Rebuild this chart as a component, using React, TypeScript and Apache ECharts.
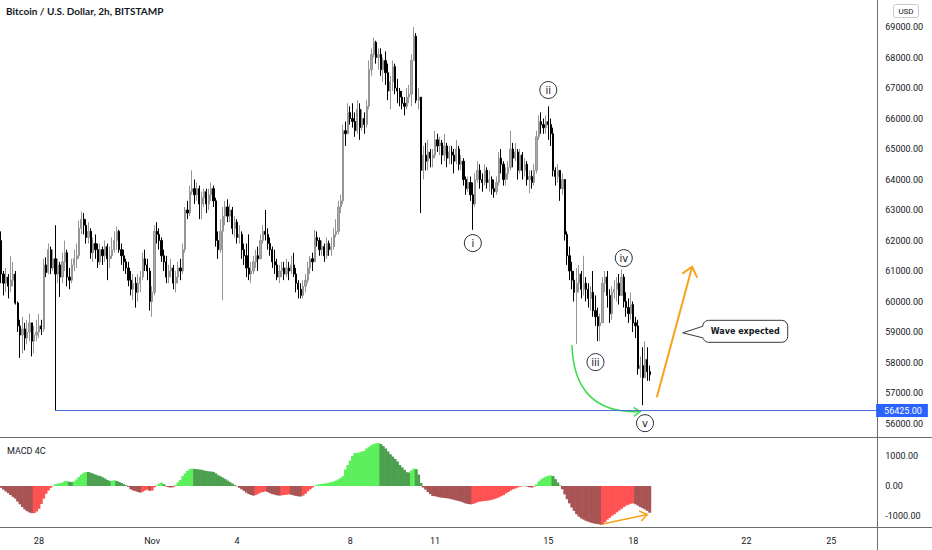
import { useEffect, useRef } from "react";
import * as echarts from "echarts";

// ---------- labels ----------
const TITLE = "Bitcoin / U.S. Dollar, 2h, BITSTAMP";
const PANE_LABEL = "MACD 4C";
const CURRENCY = "USD";
const CALLOUT_TEXT = "Wave expected";

// ---------- time axis ----------
const SLOT_COUNT = 372; // 2h slots shown on the axis (incl. empty future)
const FIRST_DAY_SLOT = 16; // slot of Oct 28 00:00
const BARS_PER_DAY = 12;
const dayTickLabels = ["28", "Nov", "4", "8", "11", "15", "18", "22", "25"];
const dayTickOffsets = [0, 4, 7, 11, 14, 18, 21, 25, 28]; // days after Oct 28

// ---------- price data (2h candles, open = previous close) ----------
const firstOpen = 62000;
const closes = [
  60900, 60600, 60800, 60500, 60700, 60900, 59950, 59200, 58900, 59100,
  58800, 59000, 59300, 58700, 58900, 59000, 59200, 59100, 61200, 60950,
  61700, 61100, 61400, 60900, 61200, 60800, 61300, 61600, 60800, 60700,
  61200, 61400, 61500, 62400, 62700, 62500, 62100, 62300, 61600, 61900,
  61700, 61300, 61700, 61500, 61800, 61400, 61500, 61700, 62000, 62300,
  61700, 61500, 61300, 61100, 60700, 60400, 60600, 60300, 60600, 60800,
  61400, 61200, 61000, 60000, 60300, 62300, 62200, 62000, 61500, 61300,
  60800, 61000, 61100, 60600, 60800, 61100, 61000, 61700, 63000, 62900,
  63600, 63700, 63500, 63700, 63200, 63400, 63600, 63200, 63500, 63700,
  63300, 62000, 61700, 62300, 62800, 63100, 62800, 63000, 62400, 62600,
  62100, 62200, 61700, 61500, 61100, 60900, 61000, 61300, 61500, 61400,
  62000, 62300, 62200, 61900, 61700, 61300, 61200, 60800, 61000, 61100,
  60900, 61100, 61000, 61200, 60900, 60600, 60400, 60200, 60500, 60700,
  61100, 61400, 61300, 62100, 62000, 61700, 61800, 61500, 61900, 61700,
  61800, 62200, 62300, 63100, 63300, 65600, 65500, 66200, 66000, 65900,
  65600, 66300, 65700, 66000, 65800, 66400, 67600, 68100, 68500, 68000,
  68100, 67600, 67900, 67500, 66900, 67200, 67700, 67000, 66900, 66700,
  66500, 66400, 66700, 66800, 67900, 68700, 66600, 66700, 64300, 64800,
  64600, 64900, 64700, 64800, 65300, 65100, 65200, 64800, 65100, 64700,
  64900, 64800, 64600, 65000, 64500, 64600, 64000, 63700, 63900, 63500,
  63200, 64000, 64300, 64000, 63900, 64300, 63900, 64000, 63700, 63600,
  63900, 64700, 64500, 64000, 64200, 64400, 65000, 64700, 64900, 64300,
  64800, 64300, 64500, 64000, 64100, 63900, 64300, 65400, 65900, 65800,
  65700, 65900, 65800, 65500, 64300, 64100, 64300, 63700, 64000, 62200,
  61500, 61000, 60700, 60300, 60600, 60900, 60400, 60600, 60400, 60100,
  60300, 59700, 59500, 59200, 59300, 60600, 60800, 60200, 59600, 60300,
  60400, 60600, 60200, 60800, 60000, 59800, 59600, 59900, 59300, 59200,
  57800, 57900, 57500, 58100, 57700, 57600,
];
const highs = [
  62300, 61000, 61100, 60900, 61500, 61300, 61000, 60000, 59400, 59500,
  59300, 59400, 59600, 59300, 59200, 59400, 59600, 59400, 61400, 61450,
  61900, 61800, 61700, 62500, 61400, 61300, 61600, 62000, 61700, 61100,
  61400, 61700, 61900, 62650, 62950, 62900, 62700, 62600, 62400, 62100,
  62200, 61900, 61900, 61800, 62000, 61900, 61800, 62100, 62300, 62450,
  62350, 61900, 61700, 61400, 61300, 61000, 60900, 60800, 60900, 61000,
  61600, 61700, 61400, 61100, 60500, 62500, 62600, 62400, 62100, 61700,
  61500, 61200, 61400, 61200, 61000, 61300, 61400, 61900, 63100, 63300,
  63800, 64300, 64000, 63900, 63800, 63600, 63700, 63700, 63700, 63900,
  63800, 63400, 62300, 62700, 63100, 63300, 63350, 63200, 63100, 62800,
  62700, 62500, 62300, 61900, 61900, 62200, 61300, 61500, 61700, 61800,
  62200, 62500, 63000, 62400, 62100, 61800, 61700, 61400, 61200, 61300,
  61300, 61400, 61300, 61500, 61600, 61100, 60700, 60600, 60700, 60900,
  61300, 61500, 61600, 62350, 62300, 62100, 62000, 61900, 62100, 62000,
  62100, 62400, 62700, 63300, 63500, 65800, 65900, 66500, 66400, 66500,
  66200, 66600, 66500, 66300, 66200, 66600, 67900, 68300, 68650, 68550,
  68300, 68300, 68000, 68200, 67800, 67400, 67900, 67800, 67300, 67000,
  66900, 66700, 67000, 67100, 68100, 69000, 68800, 67000, 66700, 65100,
  65200, 65300, 65000, 65000, 65600, 65500, 65400, 65300, 65500, 65200,
  65100, 65100, 65000, 65300, 65100, 64800, 64700, 64100, 64100, 64100,
  63900, 64200, 64600, 64500, 64200, 64500, 64400, 64300, 64100, 64000,
  64100, 64900, 65000, 64600, 64400, 64600, 65600, 65200, 65200, 65000,
  65000, 64900, 64700, 64600, 64300, 64300, 64500, 65600, 66100, 66200,
  66000, 66100, 66400, 66000, 65700, 64400, 64500, 64300, 64200, 64000,
  62300, 61800, 61300, 61000, 61100, 61200, 61000, 61500, 60800, 60600,
  60500, 61000, 60200, 59800, 59600, 60800, 61000, 61000, 60400, 60500,
  60700, 60800, 60900, 61050, 60900, 60300, 60100, 60300, 60000, 59500,
  59400, 58200, 58500, 58700, 58500, 57900,
];
const lows = [
  60600, 60200, 60300, 60100, 60300, 60500, 59900, 59000, 58150, 58300,
  58400, 58600, 58700, 58200, 58300, 58700, 58800, 58900, 59000, 60800,
  60900, 60900, 61000, 56425, 60600, 60150, 60600, 61000, 60500, 60400,
  60600, 61000, 61100, 61400, 62200, 62200, 61900, 61900, 61400, 61300,
  61400, 61100, 61200, 61200, 61300, 60700, 61100, 61400, 61600, 61700,
  61600, 61200, 61000, 60900, 60500, 60200, 60050, 59800, 60000, 60300,
  60700, 61000, 60700, 59700, 59500, 60200, 61900, 61700, 61300, 61000,
  60600, 60600, 60800, 60400, 60300, 60600, 60700, 60900, 61600, 62700,
  62800, 63500, 63200, 63300, 62700, 62700, 63100, 62900, 63000, 63300,
  63100, 61800, 61400, 61600, 60050, 62500, 62600, 62600, 62200, 62100,
  61900, 61900, 61400, 61200, 60800, 60700, 60600, 60900, 61100, 61000,
  61400, 61900, 62000, 61700, 61500, 61100, 60900, 60700, 60600, 60800,
  60700, 60800, 60700, 60900, 60800, 60300, 60100, 60100, 60100, 60300,
  60600, 60900, 61000, 61300, 61800, 61500, 61500, 61300, 61400, 61500,
  61500, 61700, 62100, 62200, 62900, 63200, 65100, 65500, 65800, 65700,
  65400, 65500, 65300, 65600, 65500, 65700, 66300, 67400, 68000, 67800,
  67600, 67400, 67200, 67100, 66600, 66300, 66900, 66800, 66500, 66400,
  66300, 66100, 66300, 66500, 66400, 67900, 66500, 66300, 62900, 64000,
  64300, 64300, 64400, 64400, 64700, 64900, 64800, 64500, 64600, 64400,
  64500, 64500, 64200, 64500, 64300, 64300, 63800, 63500, 63600, 63300,
  62350, 63100, 63900, 63700, 63600, 63800, 63700, 63600, 63500, 63400,
  63500, 63800, 64200, 63800, 63800, 64000, 64300, 64400, 64600, 64000,
  64200, 64000, 64100, 63800, 63550, 63700, 63800, 64200, 65300, 65500,
  65500, 65500, 65300, 65100, 64100, 63800, 63900, 63300, 63500, 62000,
  61200, 60700, 60400, 60000, 58600, 60300, 60100, 60200, 60000, 59800,
  59700, 59500, 59200, 58700, 58700, 59300, 60300, 59800, 59300, 59400,
  60100, 60000, 59900, 60200, 59800, 59500, 59300, 59400, 59000, 58800,
  57600, 57500, 56600, 57500, 57400, 57400,
];

// ---------- MACD histogram ----------
const macdHist = [
  -60, -120, -180, -240, -300, -360, -420, -520, -610, -700,
  -780, -840, -880, -905, -900, -850, -760, -600, -420, -260,
  -150, -60, 10, 60, 80, 90, 110, 160, 170, 140,
  130, 150, 220, 300, 380, 440, 470, 465, 440, 410,
  380, 350, 330, 290, 250, 200, 170, 170, 190, 170,
  140, 100, 60, 20, -30, -110, -150, -170, -200, -220,
  -190, -150, -120, -160, -150, -40, 20, 80, 110, 60,
  -20, -40, -50, -40, 30, 120, 200, 330, 420, 500,
  560, 580, 570, 560, 550, 540, 520, 500, 490, 480,
  470, 420, 360, 320, 280, 230, 180, 130, 80, 30,
  -10, -60, -110, -160, -220, -270, -300, -320, -300, -260,
  -220, -200, -180, -200, -240, -270, -290, -310, -320, -310,
  -300, -290, -280, -290, -310, -330, -345, -350, -320, -260,
  -180, -110, -50, 10, 40, 60, 70, 80, 90, 110,
  130, 150, 180, 220, 270, 330, 550, 700, 850, 1000,
  1100, 1100, 1120, 1150, 1170, 1250, 1300, 1360, 1400, 1420,
  1430, 1400, 1330, 1250, 1150, 1060, 980, 900, 820, 700,
  620, 540, 460, 450, 520, 580, 560, 380, 100, -50,
  -120, -200, -270, -330, -340, -360, -380, -390, -400, -410,
  -420, -440, -460, -480, -500, -520, -550, -580, -600, -610,
  -600, -570, -540, -520, -510, -500, -490, -480, -460, -440,
  -410, -380, -340, -300, -250, -200, -150, -110, -80, -50,
  -20, -10, 10, -20, -40, -50, -20, 60, 150, 220,
  270, 310, 340, 355, 330, 230, 120, 20, -110, -280,
  -440, -580, -720, -830, -940, -1020, -1080, -1120, -1160, -1190,
  -1220, -1240, -1260, -1270, -1280, -1270, -1200, -1120, -1060, -990,
  -940, -880, -820, -760, -700, -650, -620, -590, -580, -610,
  -650, -700, -740, -780, -830, -890,
];

// ---------- annotations (data coordinates: [bar slot, price]) ----------
const supportLevel = 56425;
const supportStartBar = 23;
const waveNames = ["i", "ii", "iii", "iv", "v"];
const waveBars = [200, 232, 252, 264, 273];
const wavePrices = [61915, 66934, 58012, 61423, 56011];
const greenArrowFrom = [242, 58570];
const greenArrowBend = [243, 56300];
const greenArrowTo = [271, 56390];
const orangeArrowFrom = [278, 56864];
const orangeArrowTo = [293, 61138];
const calloutTip = [289, 58973];
const macdArrowFrom = [254, -1280];
const macdArrowTo = [274, -950];

// ---------- styles ----------
const FONT = "Roboto, 'Liberation Sans', sans-serif";
const TEXT = "#131722";
const UP = "#aaaaaa";
const UP_BORDER = "#959595";
const DOWN = "#000000";
const LIME = "#5cf05c";
const GREEN = "#4ca050";
const RED = "#ff5252";
const MAROON = "#a85454";
const ORANGE = "#f7a21b";
const ARROW_GREEN = "#3fdc4f";
const BLUE_LINE = "#4c6fe0";
const BLUE_TAG = "#2962ff";
const SEP = "#6e6e6e";

function macdColor(i: number) {
  const v = macdHist[i];
  const prev = i > 0 ? macdHist[i - 1] : 0;
  if (v >= 0) return v >= prev ? LIME : GREEN;
  return v < prev ? MAROON : RED;
}

function arrowHead(fx: number, fy: number, tx: number, ty: number, len: number, deg: number) {
  const a = Math.atan2(ty - fy, tx - fx);
  const r = (deg * Math.PI) / 180;
  return [
    [tx - len * Math.cos(a - r), ty - len * Math.sin(a - r)],
    [tx, ty],
    [tx - len * Math.cos(a + r), ty - len * Math.sin(a + r)],
  ];
}

function buildOption() {
  const xLabels: string[] = Array.from({ length: SLOT_COUNT }, () => "");
  dayTickOffsets.forEach((d, i) => {
    xLabels[FIRST_DAY_SLOT + d * BARS_PER_DAY] = dayTickLabels[i];
  });
  const candles = closes.map((c, i) => {
    const o = i === 0 ? firstOpen : closes[i - 1];
    return [o, c, lows[i], highs[i]];
  });
  const slotW = 2.361;
  const gridLeft = -1;
  const gridWidth = SLOT_COUNT * slotW;
  return {
    animation: false,
    backgroundColor: "#ffffff",
    textStyle: { fontFamily: FONT },
    grid: [
      { left: gridLeft, top: 27, width: gridWidth, height: 396.5 },
      { left: gridLeft, top: 426, width: gridWidth, height: 120 },
    ],
    xAxis: [
      { type: "category", gridIndex: 0, data: xLabels, show: false },
      {
        type: "category",
        gridIndex: 1,
        data: xLabels,
        offset: -18,
        axisLine: { show: false },
        axisTick: { show: false },
        splitLine: { show: false },
        axisLabel: {
          interval: (_i: number, v: string) => v !== "",
          color: TEXT,
          fontSize: 9,
          fontFamily: FONT,
          margin: 8,
        },
      },
    ],
    yAxis: [
      {
        type: "value",
        gridIndex: 0,
        position: "right",
        min: 56000,
        max: 69000,
        interval: 1000,
        axisLine: { show: false },
        axisTick: { show: false },
        splitLine: { show: false },
        axisLabel: {
          formatter: (v: number) => v.toFixed(2),
          color: TEXT,
          fontSize: 9,
          fontFamily: FONT,
          margin: 8,
        },
      },
      {
        type: "value",
        gridIndex: 1,
        position: "right",
        min: -2000,
        max: 2000,
        interval: 1000,
        axisLine: { show: false },
        axisTick: { show: false },
        splitLine: { show: false },
        axisLabel: {
          formatter: (v: number) => (Math.abs(v) > 1000 ? "" : v.toFixed(2)),
          color: TEXT,
          fontSize: 9,
          fontFamily: FONT,
          margin: 8,
        },
      },
    ],
    series: [
      {
        type: "candlestick",
        xAxisIndex: 0,
        yAxisIndex: 0,
        data: candles,
        barWidth: 1.7,
        silent: true,
        itemStyle: {
          color: UP,
          color0: DOWN,
          borderColor: UP_BORDER,
          borderColor0: DOWN,
          borderWidth: 1,
        },
        markLine: {
          silent: true,
          symbol: ["none", "none"],
          animation: false,
          lineStyle: { color: BLUE_LINE, width: 1, type: "solid" },
          label: {
            show: true,
            position: "end",
            distance: 0,
            formatter: supportLevel.toFixed(2),
            backgroundColor: BLUE_TAG,
            color: "#ffffff",
            fontSize: 9,
            fontFamily: FONT,
            padding: [2, 6, 2, 8],
          },
          data: [
            [
              { coord: [supportStartBar, supportLevel] },
              { coord: [SLOT_COUNT - 1, supportLevel] },
            ],
          ],
        },
        markPoint: {
          silent: true,
          animation: false,
          symbol: "circle",
          symbolSize: 17,
          itemStyle: { color: "#ffffff", borderColor: "#2a2e39", borderWidth: 1 },
          label: {
            show: true,
            color: TEXT,
            fontSize: 10,
            fontFamily: "'DejaVu Sans', sans-serif",
            formatter: (p: any) => p.name,
          },
          data: waveNames.map((n, i) => ({ name: n, coord: [waveBars[i], wavePrices[i]] })),
        },
      },
      {
        type: "bar",
        xAxisIndex: 1,
        yAxisIndex: 1,
        silent: true,
        barWidth: 3,
        data: macdHist.map((v, i) => ({ value: v, itemStyle: { color: macdColor(i) } })),
      },
    ],
  };
}

function buildGraphics(chart: any) {
  const p0 = (pt: number[]) => chart.convertToPixel({ gridIndex: 0 }, pt) as number[];
  const p1 = (pt: number[]) => chart.convertToPixel({ gridIndex: 1 }, pt) as number[];
  const els: any[] = [];

  // pane separators
  els.push({ type: "line", shape: { x1: 0, y1: 437.5, x2: 932, y2: 437.5 }, style: { stroke: SEP, lineWidth: 1 }, silent: true });
  els.push({ type: "line", shape: { x1: 0, y1: 527.5, x2: 932, y2: 527.5 }, style: { stroke: SEP, lineWidth: 1 }, silent: true });
  els.push({ type: "line", shape: { x1: 877.5, y1: 0, x2: 877.5, y2: 550 }, style: { stroke: SEP, lineWidth: 1 }, silent: true });

  // title & pane label
  els.push({ type: "text", x: 6, y: 11, style: { text: TITLE, fill: TEXT, fontSize: 10, fontWeight: "bold", fontFamily: "Lato, sans-serif", align: "left", verticalAlign: "middle" }, silent: true });
  els.push({ type: "text", x: 7, y: 451, style: { text: PANE_LABEL, fill: TEXT, fontSize: 9, fontFamily: FONT, align: "left", verticalAlign: "middle" }, silent: true });

  // currency box
  els.push({ type: "rect", shape: { x: 893.5, y: 4.5, width: 25, height: 13, r: 2 }, style: { fill: "#ffffff", stroke: "#c8cad0", lineWidth: 1 }, silent: true });
  els.push({ type: "text", x: 906, y: 11, style: { text: CURRENCY, fill: TEXT, fontSize: 8, fontFamily: FONT, align: "center", verticalAlign: "middle" }, silent: true });

  // green curved arrow
  const gS = p0(greenArrowFrom), gC = p0(greenArrowBend), gE = p0(greenArrowTo);
  els.push({ type: "bezierCurve", shape: { x1: gS[0], y1: gS[1], x2: gE[0], y2: gE[1], cpx1: gC[0], cpy1: gC[1] }, style: { stroke: ARROW_GREEN, lineWidth: 1.5, fill: "none" }, silent: true });
  els.push({ type: "polyline", shape: { points: arrowHead(gC[0], gC[1], gE[0], gE[1], 8, 35) }, style: { stroke: ARROW_GREEN, lineWidth: 1.5, fill: "none" }, silent: true });

  // orange up arrow
  const oS = p0(orangeArrowFrom), oE = p0(orangeArrowTo);
  els.push({ type: "line", shape: { x1: oS[0], y1: oS[1], x2: oE[0], y2: oE[1] }, style: { stroke: ORANGE, lineWidth: 2 }, silent: true });
  els.push({ type: "polyline", shape: { points: arrowHead(oS[0], oS[1], oE[0], oE[1], 12, 40) }, style: { stroke: ORANGE, lineWidth: 2, fill: "none" }, silent: true });

  // callout
  const t = p0(calloutTip);
  const bx = t[0] + 20, by = t[1] - 12.5, bw = 85, bh = 22;
  els.push({ type: "rect", shape: { x: bx, y: by, width: bw, height: bh, r: 6 }, style: { fill: "#ffffff", stroke: "#3a3a3a", lineWidth: 1 }, silent: true });
  els.push({ type: "polygon", shape: { points: [[t[0], t[1]], [bx + 1.5, t[1] - 6.5], [bx + 1.5, t[1] + 5]] }, style: { fill: "#ffffff", stroke: "none" }, silent: true });
  els.push({ type: "polyline", shape: { points: [[bx, t[1] - 6.5], [t[0], t[1]], [bx, t[1] + 5]] }, style: { stroke: "#3a3a3a", lineWidth: 1, fill: "none" }, silent: true });
  els.push({ type: "text", x: bx + bw / 2, y: by + bh / 2, style: { text: CALLOUT_TEXT, fill: TEXT, fontSize: 8, fontWeight: "bold", fontFamily: "'DejaVu Sans', sans-serif", align: "center", verticalAlign: "middle" }, silent: true });

  // MACD divergence arrow
  const mS = p1(macdArrowFrom), mE = p1(macdArrowTo);
  els.push({ type: "line", shape: { x1: mS[0], y1: mS[1], x2: mE[0], y2: mE[1] }, style: { stroke: ORANGE, lineWidth: 1.5 }, silent: true });
  els.push({ type: "polyline", shape: { points: arrowHead(mS[0], mS[1], mE[0], mE[1], 9, 35) }, style: { stroke: ORANGE, lineWidth: 1.5, fill: "none" }, silent: true });

  return els;
}

export default function App() {
  const ref = useRef<HTMLDivElement>(null);
  useEffect(() => {
    if (!ref.current) return;
    const chart = echarts.init(ref.current, null, { renderer: "svg" });
    chart.setOption(buildOption() as any);
    chart.setOption({ graphic: buildGraphics(chart) } as any);
    return () => chart.dispose();
  }, []);
  return (
    <div
      ref={ref}
      style={{ position: "fixed", left: 0, top: 0, width: 932, height: 550, background: "#ffffff" }}
    />
  );
}
